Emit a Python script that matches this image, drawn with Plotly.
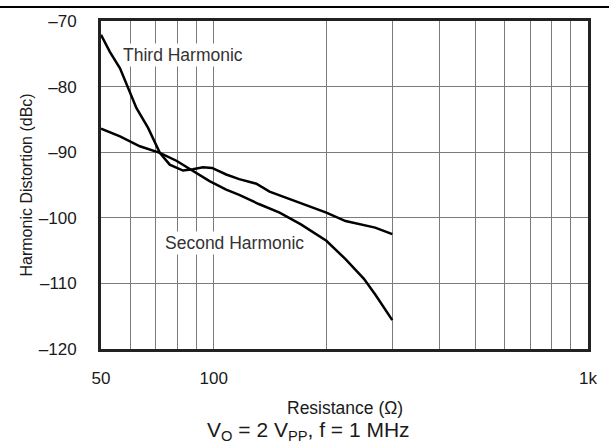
import math
import plotly.graph_objects as go

# Third harmonic (dBc) vs resistance (ohm)
third_r = [50, 52.8, 56.2, 59, 62.2, 66.8, 71.8, 76.3, 82.8, 88, 93.6, 99, 108, 117,
           130, 141, 169, 187.5, 200, 225, 270, 300]
third_db = [-72.1, -74.7, -77.2, -80.0, -83.3, -86.3, -90.1, -91.9, -92.8, -92.6, -92.3,
            -92.4, -93.4, -94.1, -94.8, -96.0, -97.7, -98.7, -99.2, -100.5, -101.5, -102.5]

# Second harmonic
second_r = [50, 56.2, 63.5, 71.8, 79.5, 88, 97.5, 108, 117, 132, 150, 171, 200, 225,
            252, 271, 300]
second_db = [-86.4, -87.6, -89.1, -90.1, -91.3, -92.9, -94.4, -95.7, -96.5, -97.9, -99.2,
             -101.0, -103.5, -106.3, -109.3, -111.8, -115.6]

x_ticks = [50, 100, 1000]
x_labels = ["50", "100", "1k"]
x_minor = [60, 70, 80, 90, 200, 300, 400, 500, 600, 700, 800, 900]
y_ticks = [-120, -110, -100, -90, -80, -70]
y_labels = ["–120", "–110", "–100", "–90", "–80", "–70"]

FONT = "Liberation Sans, Arial, sans-serif"
INK = "#1a1a1a"
GRID = "#7a7a7a"

fig = go.Figure()

fig.add_trace(go.Scatter(x=third_r, y=third_db, mode="lines",
                         line=dict(color="black", width=2.5), showlegend=False))
fig.add_trace(go.Scatter(x=second_r, y=second_db, mode="lines",
                         line=dict(color="black", width=2.5), showlegend=False))

# log axis: annotation x is given in log10 units
fig.add_annotation(x=math.log10(82.6), y=-75.2, xref="x", yref="y", text="Third Harmonic",
                   showarrow=False, bgcolor="white", borderpad=1,
                   font=dict(family=FONT, size=17.5, color="#333"))
fig.add_annotation(x=math.log10(113.6), y=-103.9, xref="x", yref="y", text="Second Harmonic",
                   showarrow=False, bgcolor="white", borderpad=1,
                   font=dict(family=FONT, size=17.5, color="#333"))

# axis titles
fig.add_annotation(x=-0.155, y=0.5, xref="paper", yref="paper", xanchor="center",
                   text="Harmonic Distortion (dBc)", textangle=-90, showarrow=False,
                   font=dict(family=FONT, size=16, color=INK))
fig.add_annotation(x=0.5, y=-0.179, xref="paper", yref="paper", yanchor="middle",
                   text="Resistance (Ω)", showarrow=False,
                   font=dict(family=FONT, size=17.5, color=INK))
fig.add_annotation(x=0.427, y=-0.25, xref="paper", yref="paper", yanchor="middle",
                   text="V<sub>O</sub> = 2 V<sub>PP</sub>, f = 1 MHz", showarrow=False,
                   font=dict(family=FONT, size=21, color=INK))

# separator line at the very top
fig.add_shape(type="line", xref="paper", yref="paper", x0=-0.5, x1=1.5,
              y0=1.0424, y1=1.0424, line=dict(color="black", width=2))

fig.update_xaxes(
    type="log", range=[1.69897, 3.0],
    tickvals=x_ticks, ticktext=x_labels,
    showgrid=True, gridcolor=GRID, gridwidth=1.2,
    minor=dict(tickvals=x_minor, showgrid=True, gridcolor=GRID, gridwidth=1.2, ticks=""),
    showline=True, linecolor="#222", linewidth=3, mirror=True,
    ticks="", ticklabelstandoff=12,
    tickfont=dict(family=FONT, size=17, color=INK), zeroline=False,
)
fig.update_yaxes(
    range=[-120, -70],
    tickvals=y_ticks, ticktext=y_labels,
    showgrid=True, gridcolor=GRID, gridwidth=1.2,
    showline=True, linecolor="#222", linewidth=3, mirror=True,
    ticks="", ticklabelstandoff=18,
    tickfont=dict(family=FONT, size=17, color=INK), zeroline=False,
)

fig.update_layout(
    width=609, height=448,
    margin=dict(l=101, r=19, t=19, b=99),
    plot_bgcolor="white", paper_bgcolor="white",
    font=dict(family=FONT, color=INK),
)

fig.write_html("out.html", config={"displayModeBar": False},
               post_script="document.body.style.margin='0';")
